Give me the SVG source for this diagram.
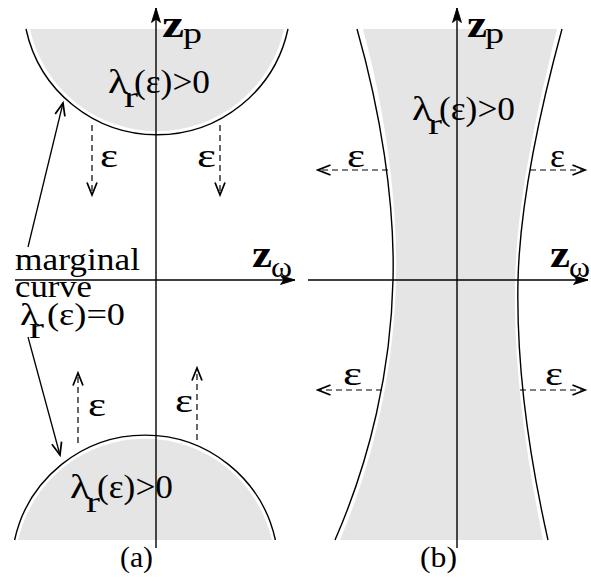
<svg xmlns="http://www.w3.org/2000/svg" width="591" height="583" viewBox="0 0 591 583">
<style>
.fill{fill:#e5e5e5;stroke:none}
.curve{fill:none;stroke:#000;stroke-width:1.4}
.axis{fill:none;stroke:#000;stroke-width:1.4}
.dash{fill:none;stroke:#000;stroke-width:1.2;stroke-dasharray:6 4}
.solid{fill:none;stroke:#000;stroke-width:1.3}
.head{fill:none;stroke:#000;stroke-width:1.4;stroke-dasharray:none}
text{fill:#000}
.t{font-size:34px}
.m{font-size:32px}
.z{font-size:38px;font-weight:bold}
.sub{font-size:30px}
</style>
<defs>
<marker id="ah" markerUnits="userSpaceOnUse" markerWidth="20" markerHeight="20" viewBox="-14 -7 16 14" refX="0" refY="0" orient="auto">
<path class="head" d="M-10,-4 L0,0 L-10,4"/>
</marker>
<marker id="axh" markerUnits="userSpaceOnUse" markerWidth="20" markerHeight="20" viewBox="-16 -7 18 14" refX="0" refY="0" orient="auto">
<path d="M-13,-4 L0,0 L-13,4 L-10,0 Z" fill="#000" stroke="#000" stroke-width="0.8"/>
</marker>
</defs>

<g id="regions">
<g id="top-region-a">
<path class="fill" d="M30,29 A130,130 0 0 0 284,29 Z"/>
<path class="curve" d="M26,29 A134,134 0 0 0 288,29"/>
</g>
<g id="bottom-region-a">
<path class="fill" d="M18.2,540 A130,130 0 0 1 271.8,540 Z"/>
<path class="curve" d="M14.6,540 A133.5,133.5 0 0 1 275.4,540"/>
</g>
<g id="region-b">
<path class="fill" d="M363,29 C385,110 398,200 396,280 C394,370 374,460 340,540 L543,540 C527,460 513,370 515,280 C517,200 537,110 557,29 Z"/>
<path class="curve" d="M357,29 C380,110 395,200 393,280 C391,370 370,460 335,540"/>
<path class="curve" d="M562,29 C540,110 520,200 518,280 C516,370 530,460 548,540"/>
</g>
</g>

<g id="connectors">
<line class="axis" x1="156" y1="548" x2="156" y2="8" marker-end="url(#axh)"/>
<line class="axis" x1="15" y1="280" x2="295" y2="280" marker-end="url(#axh)"/>
<line class="axis" x1="457" y1="548" x2="457" y2="8" marker-end="url(#axh)"/>
<line class="axis" x1="308" y1="280" x2="588" y2="280" marker-end="url(#axh)"/>

<line class="dash" x1="92" y1="125" x2="92" y2="195" marker-end="url(#ah)"/>
<line class="dash" x1="220" y1="125" x2="220" y2="195" marker-end="url(#ah)"/>
<line class="dash" x1="78" y1="443" x2="78" y2="373" marker-end="url(#ah)"/>
<line class="dash" x1="197" y1="440" x2="197" y2="368" marker-end="url(#ah)"/>

<line class="dash" x1="388" y1="170" x2="318" y2="170" marker-end="url(#ah)"/>
<line class="dash" x1="530" y1="170" x2="585" y2="170" marker-end="url(#ah)"/>
<line class="dash" x1="382" y1="390" x2="318" y2="390" marker-end="url(#ah)"/>
<line class="dash" x1="520" y1="390" x2="585" y2="390" marker-end="url(#ah)"/>

<line class="solid" x1="28" y1="247" x2="63" y2="103" marker-end="url(#ah)"/>
<line class="solid" x1="28" y1="337" x2="60" y2="455" marker-end="url(#ah)"/>
</g>

<g id="labels" font-family="'Liberation Serif', 'Times New Roman', 'DejaVu Serif', serif">
<g id="zp-a">
<text class="z" x="162" y="37" textLength="22" lengthAdjust="spacingAndGlyphs">z</text>
<text class="sub" x="183" y="43" textLength="19" lengthAdjust="spacingAndGlyphs">p</text>
</g>
<g id="zw-a">
<text class="z" x="252" y="267" textLength="20" lengthAdjust="spacingAndGlyphs">z</text>
<text class="sub" x="271" y="277" textLength="21" lengthAdjust="spacingAndGlyphs">ω</text>
</g>
<g id="zp-b">
<text class="z" x="467" y="37" textLength="20" lengthAdjust="spacingAndGlyphs">z</text>
<text class="sub" x="485" y="43" textLength="19" lengthAdjust="spacingAndGlyphs">p</text>
</g>
<g id="zw-b">
<text class="z" x="550" y="267" textLength="20" lengthAdjust="spacingAndGlyphs">z</text>
<text class="sub" x="569" y="277" textLength="21" lengthAdjust="spacingAndGlyphs">ω</text>
</g>

<g id="lambda-top-a">
<text class="t" x="108" y="93" textLength="20" lengthAdjust="spacingAndGlyphs">λ</text>
<text class="sub" x="124" y="107" textLength="14" lengthAdjust="spacingAndGlyphs">r</text>
<text class="t" x="134" y="93" textLength="76" lengthAdjust="spacingAndGlyphs">(ε)&gt;0</text>
</g>
<g id="lambda-bottom-a">
<text class="t" x="70" y="498" textLength="20" lengthAdjust="spacingAndGlyphs">λ</text>
<text class="sub" x="86" y="512" textLength="14" lengthAdjust="spacingAndGlyphs">r</text>
<text class="t" x="97" y="498" textLength="76" lengthAdjust="spacingAndGlyphs">(ε)&gt;0</text>
</g>
<g id="lambda-b">
<text class="t" x="412" y="120" textLength="20" lengthAdjust="spacingAndGlyphs">λ</text>
<text class="sub" x="428" y="134" textLength="14" lengthAdjust="spacingAndGlyphs">r</text>
<text class="t" x="439" y="120" textLength="76" lengthAdjust="spacingAndGlyphs">(ε)&gt;0</text>
</g>

<g id="marginal">
<text class="m" x="15" y="270" textLength="125" lengthAdjust="spacingAndGlyphs">marginal</text>
<text class="m" x="15" y="297" textLength="77" lengthAdjust="spacingAndGlyphs">curve</text>
<text class="m" x="20" y="325" textLength="19" lengthAdjust="spacingAndGlyphs">λ</text>
<text class="sub" x="29" y="338" textLength="15" lengthAdjust="spacingAndGlyphs">r</text>
<text class="m" x="47" y="325" textLength="78" lengthAdjust="spacingAndGlyphs">(ε)=0</text>
</g>

<g id="eps">
<text class="t" x="100" y="167" textLength="18" lengthAdjust="spacingAndGlyphs">ε</text>
<text class="t" x="197" y="167" textLength="19" lengthAdjust="spacingAndGlyphs">ε</text>
<text class="t" x="88" y="416" textLength="18" lengthAdjust="spacingAndGlyphs">ε</text>
<text class="t" x="175" y="412" textLength="18" lengthAdjust="spacingAndGlyphs">ε</text>
<text class="t" x="347" y="167" textLength="18" lengthAdjust="spacingAndGlyphs">ε</text>
<text class="t" x="550" y="167" textLength="15" lengthAdjust="spacingAndGlyphs">ε</text>
<text class="t" x="343" y="385" textLength="19" lengthAdjust="spacingAndGlyphs">ε</text>
<text class="t" x="545" y="385" textLength="18" lengthAdjust="spacingAndGlyphs">ε</text>
</g>

<g id="captions">
<text x="120" y="567" font-size="30" textLength="33" lengthAdjust="spacingAndGlyphs">(a)</text>
<text x="420" y="567" font-size="30" textLength="37" lengthAdjust="spacingAndGlyphs">(b)</text>
</g>
</g>
</svg>
